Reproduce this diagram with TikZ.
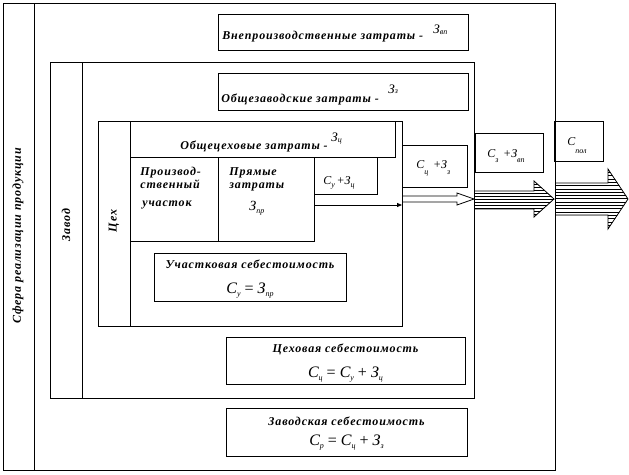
\documentclass[tikz,border=0pt]{standalone}
\usepackage{fontspec}
\setmainfont{Liberation Serif}
\newfontfamily\lblfam[LetterSpace=7]{Liberation Serif}
\usetikzlibrary{arrows.meta}
\newcommand\lblfont{\lblfam\bfseries\itshape\fontsize{12}{14}\selectfont}
\newcommand\It[2]{{\normalfont\itshape\fontsize{#1}{#1}\selectfont #2}}
\newcommand\Sub[3]{\raisebox{-#1pt}{\normalfont\itshape\fontsize{#2}{#2}\selectfont #3}}
\begin{document}
\begin{tikzpicture}[x=1pt,y=-1pt, line width=0.8pt,
  frame/.style={draw, rectangle, inner sep=0pt, outer sep=0pt},
  lbl/.style={font=\lblfont, inner sep=0pt},
  sym/.style={inner sep=0pt, anchor=base west},
  hatch/.style={line width=0.5pt}]
\useasboundingbox (0,0) rectangle (629,474);

% frames
\node[frame, minimum width=552pt, minimum height=467pt] (sfera) at (279,236.5) {};
\draw ([xshift=31pt]sfera.north west) -- ([xshift=31pt]sfera.south west);
\node[frame, minimum width=424pt, minimum height=336pt] (zavod) at (262,230) {};
\draw ([xshift=32pt]zavod.north west) -- ([xshift=32pt]zavod.south west);
\node[frame, minimum width=304pt, minimum height=205pt] (cekh) at (250,223.5) {};
\draw ([xshift=32pt]cekh.north west) -- ([xshift=32pt]cekh.south west);

% boxes
\node[frame, minimum width=250pt, minimum height=36pt] (vnepr) at (343,32) {};
\node[frame, minimum width=250pt, minimum height=37pt] (obzav) at (343,91.5) {};
\node[frame, minimum width=265pt, minimum height=36pt] (obcekh) at (262.5,139) {};
\node[frame, minimum width=63pt, minimum height=37pt] (cyzc) at (345.5,175.5) {};
\node[frame, minimum width=192pt, minimum height=48pt] (uch) at (250,277) {};
\node[frame, minimum width=239pt, minimum height=47pt] (cekhseb) at (345.5,360.5) {};
\node[frame, minimum width=241pt, minimum height=48pt] (zavseb) at (346.5,432) {};
\node[frame, minimum width=65pt, minimum height=42pt] (czzz) at (434.5,166) {};
\node[frame, minimum width=68pt, minimum height=39pt] (czzvp) at (509,152.5) {};
\node[frame, minimum width=49pt, minimum height=40pt] (cpol) at (578.5,141) {};

% cells of the workshop
\draw (218,157) -- (218,241);
\draw (130,241) -- (314,241) -- (314,157);

% connector
\coordinate (a1) at (314,205);
\draw[-{Triangle[length=5pt,width=4pt]}] (a1) -- (a1 -| cekh.east);

% hollow arrow
\draw (402,196) -- (457,196) -- (457,193) -- (474,199) -- (457,205) -- (457,202) -- (402,202);

% hatched arrow 2
\begin{scope}
\clip (475,191) -- (534,191) -- (534,181) -- (554.5,199) -- (534,217) -- (534,209) -- (475,209) -- cycle;
\foreach \yy in {181,184,...,217} \draw[hatch] (470,\yy) -- (560,\yy);
\end{scope}
\draw (475,191) -- (534,191) -- (534,181) -- (554,199) -- (534,217) -- (534,209) -- (475,209);

% hatched arrow 3
\begin{scope}
\clip (555,183) -- (608,183) -- (608,169) -- (628.5,199) -- (608,229) -- (608,215) -- (555,215) -- cycle;
\foreach \yy in {169,172.3,...,230} \draw[hatch] (550,\yy) -- (630,\yy);
\end{scope}
\draw (555,183) -- (608,183) -- (608,169) -- (628,199) -- (608,229) -- (608,215) -- (555,215);

% vertical labels
\node[lbl, rotate=90] (tsfera) at (18,236) {Сфера реализации продукции};
\node[lbl, rotate=90] (tzavod) at (66,225) {Завод};
\node[lbl, rotate=90] (tcekh) at (114,221) {Цех};

% box labels
\node[lbl, anchor=base west] (tvnepr) at (222,39) {Внепроизводственные затраты -};
\node[sym] (zvnepr) at (433,33) {\It{13}{З}\Sub{1}{8}{вп}};
\node[lbl, anchor=base west] (tobzav) at (221,102) {Общезаводские затраты -};
\node[sym] (zobzav) at (388,93) {\It{13}{З}\Sub{0}{8}{з}};
\node[lbl, anchor=base west] (tobcekh) at (180,149) {Общецеховые затраты -};
\node[sym] (zobcekh) at (331,141) {\It{13}{З}\Sub{1}{8}{ц}};

\node[lbl, anchor=base west] (tp1) at (140,175) {Производ-};
\node[lbl, anchor=base west] (tp2) at (140,188) {ственный};
\node[lbl, anchor=base west] (tp3) at (142,206) {участок};
\node[lbl, anchor=base west] (tq1) at (229,175) {Прямые};
\node[lbl, anchor=base west] (tq2) at (229,188) {затраты};
\node[sym] (tq3) at (249,210) {\It{14}{З}\Sub{3}{8}{пр}};

\node[sym] (tcyzc) at (323,184) {\It{12}{С}\Sub{3}{8}{у}\,\It{12}{+З}\Sub{3}{8}{ц}};
\node[sym] (tczzz) at (416,168) {\It{12}{С}\Sub{6}{8}{ц}\,\It{12}{ +З}\Sub{6}{8}{з}};
\node[sym] (tczzvp) at (487,157) {\It{12}{С}\Sub{5}{8}{з}\,\It{12}{ +З}\Sub{5}{8}{вп}};
\node[sym] (tcpol) at (567,145) {\It{12}{С}\Sub{8}{8}{пол}};

% bottom boxes
\node[lbl, anchor=base] (tuch) at (uch.center |- 0,268) {Участковая себестоимость};
\node[anchor=base, inner sep=0pt] (fuch) at (uch.center |- 0,293) {\It{16}{С\Sub{3}{8}{у} {\upshape =} З\Sub{3}{8}{пр}}};
\node[lbl, anchor=base] (tcekhseb) at (cekhseb.center |- 0,352) {Цеховая себестоимость};
\node[anchor=base, inner sep=0pt] (fcekhseb) at (cekhseb.center |- 0,377) {\It{16}{С\Sub{3}{8}{ц} {\upshape =} С\Sub{3}{8}{у} {\upshape +} З\Sub{3}{8}{ц}}};
\node[lbl, anchor=base] (tzavseb) at (zavseb.center |- 0,425) {Заводская себестоимость};
\node[anchor=base, inner sep=0pt] (fzavseb) at (zavseb.center |- 0,445) {\It{16}{С\Sub{3}{8}{р} {\upshape =} С\Sub{3}{8}{ц} {\upshape +} З\Sub{3}{8}{з}}};
\end{tikzpicture}
\end{document}
